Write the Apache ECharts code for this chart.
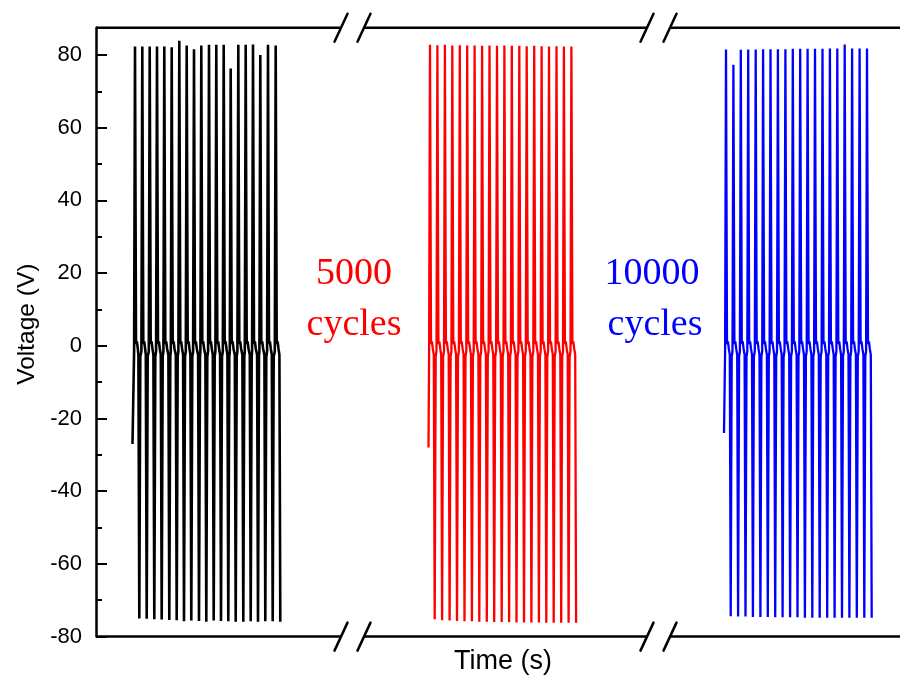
<!DOCTYPE html>
<html><head><meta charset="utf-8">
<script src="https://cdn.jsdelivr.net/npm/echarts@6/dist/echarts.min.js"></script>
<style>html,body{margin:0;padding:0;background:#fff}#c{width:900px;height:678px}</style>
</head><body><div id="c"></div>
<script>
// ---- data (time in s on an arbitrary broken axis, voltage in V) ----
const blackStart = [3.65, -27];
const blackPosTimes = [3.90,4.63,5.37,6.10,6.83,7.57,8.33,9.07,9.80,10.53,11.30,12.03,12.77,13.47,14.23,14.97,15.70,16.43,17.20,17.97];
const blackPosPeaks = [82.3,82.3,82.3,82.3,82.3,82.1,83.9,82.6,81.6,82.6,82.8,82.8,82.8,76.3,82.8,82.8,82.9,80.0,82.8,82.6];
const blackNegTimes = [4.33,5.07,5.83,6.57,7.33,8.07,8.80,9.53,10.30,11.03,11.77,12.50,13.23,13.97,14.73,15.47,16.20,16.93,17.67,18.43];
const blackNegPeaks = [-75.0,-75.1,-75.2,-75.3,-75.4,-75.5,-75.8,-75.6,-75.7,-75.9,-75.6,-75.7,-75.8,-75.9,-75.9,-75.8,-75.9,-75.8,-75.8,-75.9];

const redStart = [33.25, -28];
const redPosTimes = [33.40,34.14,34.89,35.63,36.38,37.12,37.86,38.61,39.35,40.10,40.84,41.58,42.33,43.07,43.82,44.56,45.30,46.05,46.79,47.54];
const redPosPeaks = [82.8,82.7,82.8,82.6,82.7,82.6,82.6,82.5,82.6,82.5,82.6,82.5,82.5,82.4,82.5,82.4,82.3,82.4,82.3,82.3];
const redNegTimes = [33.87,34.61,35.36,36.10,36.85,37.59,38.33,39.08,39.82,40.57,41.31,42.05,42.80,43.54,44.29,45.03,45.77,46.52,47.26,48.01];
const redNegPeaks = [-75.2,-75.5,-75.6,-75.7,-75.8,-75.8,-75.9,-75.9,-76.0,-76.0,-76.0,-76.1,-76.1,-76.1,-76.1,-76.2,-76.2,-76.2,-76.2,-76.2];

const blueStart = [62.80, -24];
const bluePosTimes = [63.00,63.74,64.48,65.22,65.97,66.71,67.45,68.19,68.94,69.68,70.42,71.16,71.90,72.65,73.39,74.13,74.87,75.61,76.36,77.10];
const bluePosPeaks = [81.5,77.3,81.4,81.5,81.5,81.6,81.6,81.6,81.6,81.7,81.7,81.7,81.7,81.7,81.8,81.8,82.9,81.8,81.8,81.8];
const blueNegTimes = [63.47,64.21,64.95,65.69,66.44,67.18,67.92,68.66,69.41,70.15,70.89,71.63,72.37,73.12,73.86,74.60,75.34,76.08,76.83,77.57];
const blueNegPeaks = [-74.4,-74.5,-74.5,-74.6,-74.6,-74.6,-74.7,-74.7,-74.7,-74.7,-74.8,-74.8,-74.8,-74.8,-74.8,-74.8,-74.8,-74.8,-74.8,-74.8];

// baseline points near 0 V read around each spike: [offset from spike (s), V]
const beforePos = [[-0.09, -1.5]];
const afterPos  = [[0.10, 0.5], [0.19, 1.2], [0.28, -0.8]];
const beforeNeg = [[-0.09, -2.5]];
const afterNeg  = [[0.10, -3.0]];

const yTicks = [-80,-60,-40,-20,0,20,40,60,80];
const yMinorTicks = [-70,-50,-30,-10,10,30,50,70];
const Y_MIN = -80, Y_MAX = 87.5, X_MIN = 0, X_MAX = 80.4;
// axis line pieces between the "//" breaks (s)
const axisSegments = [[0, 24.5], [26.8, 55.1], [57.4, 80.4]];

function buildTrace(start, posT, posV, negT, negV) {
  const pts = [start];
  for (let i = 0; i < posT.length; i++) {
    beforePos.forEach(([o, v]) => pts.push([posT[i] + o, v]));
    pts.push([posT[i], posV[i]]);
    afterPos.forEach(([o, v]) => pts.push([posT[i] + o, v]));
    beforeNeg.forEach(([o, v]) => pts.push([negT[i] + o, v]));
    pts.push([negT[i], negV[i]]);
    if (i < posT.length - 1) afterNeg.forEach(([o, v]) => pts.push([negT[i] + o, v]));
  }
  return pts;
}

const chart = echarts.init(document.getElementById('c'), null, {renderer: 'canvas'});
const lineSeries = (data, color, width) => ({
  type: 'line', data, showSymbol: false, symbol: 'none', animation: false,
  lineStyle: {color, width}, itemStyle: {color}, xAxisIndex: 0, yAxisIndex: 0, z: 3
});
const SANS = 'Liberation Sans, Arial, sans-serif';
const SERIF = '38px "Liberation Serif", "Times New Roman", serif';

chart.setOption({
  animation: false,
  backgroundColor: '#fff',
  grid: {left: 96, right: 0, top: 27.7, bottom: 41.4, containLabel: false, outerBoundsMode: 'none'},
  xAxis: {
    type: 'value', min: X_MIN, max: X_MAX,
    axisLine: {show: false}, axisTick: {show: false}, axisLabel: {show: false}, splitLine: {show: false},
    name: 'Time (s)', nameLocation: 'middle', nameGap: 11,
    nameTextStyle: {fontFamily: SANS, fontSize: 27, color: '#000', verticalAlign: 'top', padding: [0, 0, 0, 10]}
  },
  yAxis: [{
    type: 'value', min: Y_MIN, max: Y_MAX,
    axisLine: {show: true, lineStyle: {color: '#000', width: 2.5}},
    axisTick: {show: true, inside: true, length: 11, customValues: yTicks, lineStyle: {color: '#000', width: 2}},
    axisLabel: {customValues: yTicks, fontFamily: SANS, fontSize: 22, color: '#000', margin: 14},
    splitLine: {show: false},
    name: 'Voltage (V)', nameLocation: 'middle', nameGap: 54,
    nameTextStyle: {fontFamily: SANS, fontSize: 24.5, color: '#000', padding: [0, 0, 0, 16]}
  }, {
    type: 'value', min: Y_MIN, max: Y_MAX, position: 'left',
    axisLine: {show: false},
    axisTick: {show: true, inside: true, length: 6, customValues: yMinorTicks, lineStyle: {color: '#000', width: 2}},
    axisLabel: {show: false}, splitLine: {show: false}
  }],
  graphic: [
    {type: 'text', x: 354, y: 274, style: {text: '5000', fill: '#ff0000', font: SERIF, textAlign: 'center', textVerticalAlign: 'middle'}},
    {type: 'text', x: 354, y: 325, style: {text: 'cycles', fill: '#ff0000', font: SERIF, textAlign: 'center', textVerticalAlign: 'middle'}},
    {type: 'text', x: 652, y: 274, style: {text: '10000', fill: '#0000ff', font: SERIF, textAlign: 'center', textVerticalAlign: 'middle'}},
    {type: 'text', x: 655, y: 325, style: {text: 'cycles', fill: '#0000ff', font: SERIF, textAlign: 'center', textVerticalAlign: 'middle'}}
  ],
  series: [
    lineSeries(buildTrace(blackStart, blackPosTimes, blackPosPeaks, blackNegTimes, blackNegPeaks), '#000000', 2.6),
    lineSeries(buildTrace(redStart, redPosTimes, redPosPeaks, redNegTimes, redNegPeaks), '#ff0000', 2.3),
    lineSeries(buildTrace(blueStart, bluePosTimes, bluePosPeaks, blueNegTimes, blueNegPeaks), '#0000ff', 2.3),
    {
      type: 'custom', data: axisSegments, clip: false, silent: true, z: 5,
      encode: {x: [0, 1]},
      renderItem(params, api) {
        const s = api.value(0), e = api.value(1);
        const last = axisSegments.length - 1;
        const children = [];
        [Y_MIN, Y_MAX].forEach(yv => {
          const p1 = api.coord([s, yv]), p2 = api.coord([e, yv]);
          children.push({type: 'line', shape: {x1: p1[0], y1: p1[1], x2: p2[0], y2: p2[1]}, style: {stroke: '#000', lineWidth: 2.5}});
          [[s, params.dataIndex > 0], [e, params.dataIndex < last]].forEach(([xv, show]) => {
            if (!show) return;
            const c = api.coord([xv, yv]);
            children.push({type: 'line', shape: {x1: c[0] - 6.5, y1: c[1] + 14, x2: c[0] + 6.5, y2: c[1] - 14}, style: {stroke: '#000', lineWidth: 2.5, lineCap: 'round'}});
          });
        });
        return {type: 'group', children};
      }
    }
  ]
});
</script></body></html>
